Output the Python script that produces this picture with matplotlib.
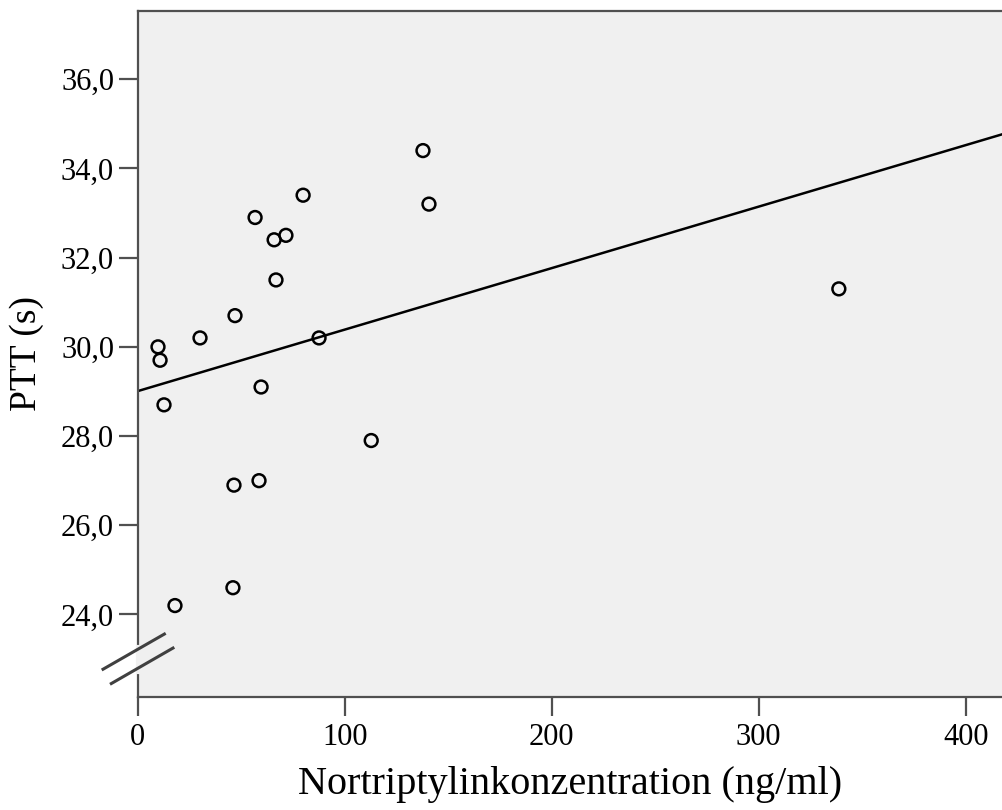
import matplotlib
matplotlib.use("Agg")
import matplotlib.pyplot as plt
import numpy as np
from matplotlib.ticker import FuncFormatter
from matplotlib.lines import Line2D

# Data
conc = [9.8, 10.8, 12.7, 18.0, 30.1, 46.0, 46.5, 47.0, 56.7, 58.6,
        59.6, 65.9, 66.8, 71.6, 79.9, 87.6, 112.8, 137.8, 140.7, 338.7]
ptt = [30.0, 29.7, 28.7, 24.2, 30.2, 24.6, 26.9, 30.7, 32.9, 27.0,
       29.1, 32.4, 31.5, 32.5, 33.4, 30.2, 27.9, 34.4, 33.2, 31.3]
x_ticks = [0, 100, 200, 300, 400]
y_ticks = [24, 26, 28, 30, 32, 34, 36]

plt.rcParams['font.family'] = ['Liberation Serif', 'DejaVu Serif']

fig = plt.figure(figsize=(10.03, 8.10), dpi=100)
ax = fig.add_axes([0.1373, 0.1395, 0.8627, 0.8475])
bg = '#f0f0f0'
ax.set_facecolor(bg)
ax.set_xlim(0, 418)
ax.set_ylim(22.15, 37.54)

slope, intercept = np.polyfit(conc, ptt, 1)
xs = np.array(ax.get_xlim())
ax.plot(xs, intercept + slope * xs, color='black', lw=1.8, zorder=2)

ax.scatter(conc, ptt, s=85, facecolors='none', edgecolors='black',
           linewidths=1.8, zorder=3)

spine_c = '#505050'
for s in ['left', 'bottom', 'top']:
    ax.spines[s].set_color(spine_c)
    ax.spines[s].set_linewidth(1.6)
ax.spines['right'].set_visible(False)

ax.set_xticks(x_ticks)
ax.set_yticks(y_ticks)
ax.yaxis.set_major_formatter(FuncFormatter(lambda v, p: f"{v:.1f}".replace('.', ',')))
ax.tick_params(axis='both', length=14, width=1.6, color=spine_c,
               labelsize=22, pad=3)
ax.tick_params(axis='x', pad=5)

ax.set_xlabel('Nortriptylinkonzentration (ng/ml)', fontsize=29, labelpad=10)
ax.set_ylabel('PTT (s)', fontsize=27, labelpad=12)

# axis break marks on y axis
fig_w, fig_h = 1003, 810
def to_fig(xp, yp):
    return xp / fig_w, 1 - yp / fig_h
g0 = to_fig(137.7, 647)
g1 = to_fig(137.7, 672)
fig.add_artist(Line2D([g0[0], g1[0]], [g0[1], g1[1]], color=bg, lw=3, zorder=10))
for (xa, ya, xb, yb) in [(101.7, 670, 165.7, 633.3), (110, 684.3, 174.3, 647.3)]:
    a = to_fig(xa, ya)
    b = to_fig(xb, yb)
    fig.add_artist(Line2D([a[0], b[0]], [a[1], b[1]], color='#404040', lw=2.2,
                          zorder=11, solid_capstyle='butt'))

fig.savefig('out.png', dpi=100)
